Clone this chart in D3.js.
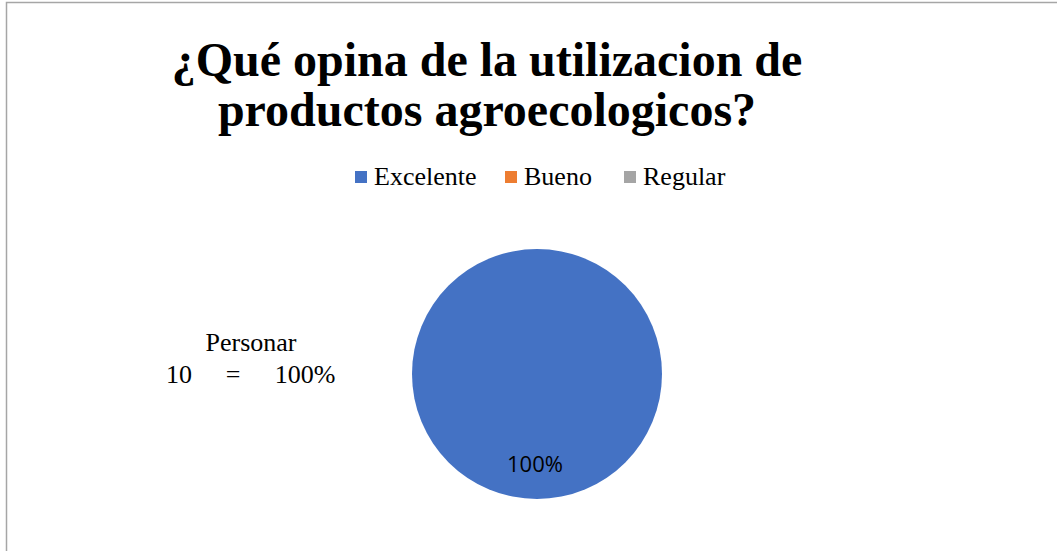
<!DOCTYPE html>
<html><head><meta charset="utf-8">
<script src="https://cdn.jsdelivr.net/npm/d3@7"></script>
<style>body{margin:0;background:#fff}svg{display:block}</style>
</head><body>
<svg id="c" width="1057" height="551"></svg>
<script>
const categories = ["Excelente", "Bueno", "Regular"];
const values = [10, 0, 0];
const colors = ["#4472C4", "#ED7D31", "#A5A5A5"];
const titleLines = ["¿Qué opina de la utilizacion de", "productos agroecologicos?"];
const noteLines = ["Personar", "10", "=", "100%"];

const svg = d3.select("#c");
svg.append("path").attr("d", "M6.5,551 V2.5 H1057").attr("fill", "none").attr("stroke", "#a6a6a6").attr("stroke-width", 1.5);

const serif = "'Liberation Serif','Times New Roman',serif";

svg.selectAll("text.title").data(titleLines).join("text")
  .attr("class", "title")
  .attr("x", 487).attr("y", (d, i) => 76 + i * 50)
  .attr("text-anchor", "middle")
  .attr("font-family", serif).attr("font-weight", "bold").attr("font-size", 48)
  .attr("fill", "#000").text(d => d);

const legX = [355, 505, 624];
const leg = svg.selectAll("g.leg").data(categories).join("g").attr("class", "leg")
  .attr("transform", (d, i) => `translate(${legX[i]},0)`);
leg.append("rect").attr("x", 0).attr("y", 171).attr("width", 12).attr("height", 12)
  .attr("fill", (d, i) => colors[i]);
leg.append("text").attr("x", 19).attr("y", 185)
  .attr("font-family", serif).attr("font-size", 26).attr("fill", "#000").text(d => d);

const cx = 537, cy = 374, r = 125;
const pie = d3.pie().sort(null).value(d => d)(values);
const arc = d3.arc().innerRadius(0).outerRadius(r);
const g = svg.append("g").attr("transform", `translate(${cx},${cy})`);
g.selectAll("path").data(pie).join("path")
  .attr("d", arc).attr("fill", (d, i) => colors[i]);

const total = d3.sum(values);
g.selectAll("text.lbl").data(pie.filter(d => d.value > 0)).join("text")
  .attr("class", "lbl")
  .attr("x", d => { const a = (d.startAngle + d.endAngle) / 2; return Math.sin(a) * r * 0.73 - 2; })
  .attr("y", d => { const a = (d.startAngle + d.endAngle) / 2; return -Math.cos(a) * r * 0.73 + 7; })
  .attr("text-anchor", "middle")
  .attr("font-family", "'Open Sans','Noto Sans',sans-serif").attr("font-size", 22)
  .attr("fill", "#000")
  .text(d => Math.round(d.value / total * 100) + "%");

svg.append("text").attr("x", 251).attr("y", 351).attr("text-anchor", "middle")
  .attr("font-family", serif).attr("font-size", 26).text(noteLines[0]);
const noteX = [166, 233, 305];
const anchors = ["start", "middle", "middle"];
svg.selectAll("text.note").data(noteLines.slice(1)).join("text").attr("class", "note")
  .attr("x", (d, i) => noteX[i]).attr("y", 383).attr("text-anchor", (d, i) => anchors[i])
  .attr("font-family", serif).attr("font-size", 26).text(d => d);
</script>
</body></html>
